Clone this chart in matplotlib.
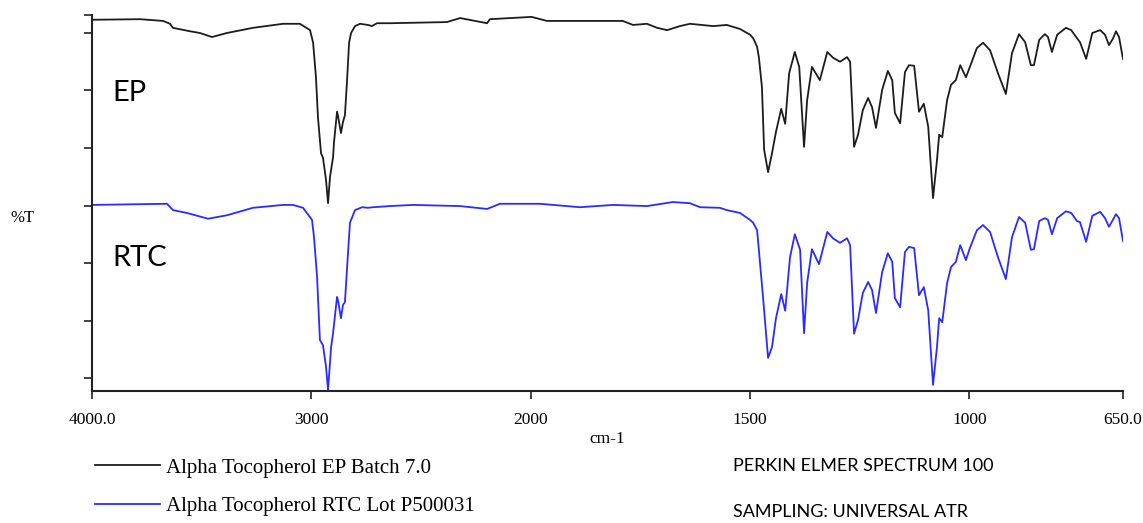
import numpy as np
import matplotlib
matplotlib.use("Agg")
import matplotlib.pyplot as plt

# ---------------------------------------------------------------------------
# Data: FT-IR spectra (wavenumber cm-1, offset %T)
# ---------------------------------------------------------------------------

EP_WN = [4000, 3781, 3676, 3644, 3631, 3553, 3508, 3453, 3385, 3266, 3129, 3052,
         3006, 2992, 2979, 2970, 2956, 2947, 2933, 2924, 2915, 2901, 2897, 2883,
         2879, 2865, 2856, 2847, 2838, 2828, 2819, 2801, 2778, 2742, 2724, 2701,
         2641, 2382, 2322, 2199, 2186, 1998, 1963, 1790, 1767, 1735, 1712, 1689,
         1660, 1637, 1584, 1553, 1523, 1500, 1493, 1484, 1480, 1473, 1468, 1459,
         1450, 1441, 1429, 1420, 1411, 1398, 1388, 1377, 1370, 1359, 1341, 1324,
         1311, 1295, 1279, 1272, 1263, 1254, 1243, 1231, 1222, 1213, 1199, 1186,
         1176, 1170, 1158, 1147, 1138, 1126, 1115, 1104, 1094, 1083, 1074, 1069,
         1062, 1051, 1042, 1031, 1021, 1008, 999, 983, 969, 953, 935, 917,
         903, 887, 873, 860, 853, 841, 828, 821, 812, 800, 780, 768,
         755, 748, 734, 720, 702, 691, 682, 673, 666, 659, 650]
EP_T = [62.3, 62.4, 62.1, 61.6, 60.9, 60.3, 60.0, 59.3, 60.0, 60.9, 61.6, 61.6,
        60.5, 58.3, 52.3, 45.4, 39.1, 38.3, 34.4, 30.4, 35.0, 38.4, 40.9, 46.3,
        45.7, 42.6, 44.5, 45.7, 51.3, 58.3, 60.0, 61.2, 61.6, 61.4, 61.2, 61.7,
        61.7, 61.9, 62.6, 61.7, 62.4, 62.8, 62.1, 62.1, 61.4, 61.6, 60.9, 60.5,
        61.2, 61.6, 61.2, 61.4, 60.7, 59.7, 59.1, 57.6, 55.8, 50.6, 39.7, 35.8,
        39.1, 42.8, 46.8, 44.2, 53.0, 56.7, 54.1, 40.2, 48.3, 54.1, 51.8, 56.7,
        55.7, 55.0, 55.8, 55.0, 40.2, 42.3, 46.6, 48.7, 47.1, 43.5, 50.1, 53.4,
        51.8, 46.1, 44.3, 53.2, 54.4, 54.3, 46.3, 47.7, 43.7, 31.3, 37.9, 42.3,
        41.9, 48.3, 51.0, 51.8, 54.4, 52.3, 54.1, 57.4, 58.3, 57.0, 53.0, 49.4,
        56.5, 59.8, 58.4, 54.4, 54.4, 58.8, 59.8, 59.3, 56.7, 59.7, 60.9, 60.5,
        59.1, 58.4, 55.5, 60.0, 60.5, 59.7, 57.9, 59.0, 60.3, 59.3, 55.5]

RTC_WN = [4000, 3658, 3631, 3567, 3471, 3385, 3266, 3129, 3084, 3038, 2997, 2988,
          2974, 2961, 2947, 2933, 2924, 2910, 2901, 2883, 2879, 2865, 2856, 2847,
          2833, 2824, 2801, 2769, 2742, 2719, 2641, 2537, 2322, 2199, 2140, 1979,
          1888, 1812, 1735, 1676, 1637, 1614, 1569, 1553, 1523, 1500, 1493, 1484,
          1480, 1470, 1459, 1450, 1441, 1429, 1420, 1409, 1398, 1386, 1377, 1370,
          1359, 1343, 1324, 1311, 1295, 1279, 1272, 1263, 1254, 1243, 1231, 1222,
          1213, 1199, 1186, 1176, 1170, 1158, 1147, 1138, 1126, 1115, 1104, 1094,
          1083, 1074, 1069, 1062, 1051, 1042, 1031, 1021, 1008, 999, 983, 969,
          953, 935, 917, 903, 887, 873, 860, 853, 841, 828, 821, 812,
          800, 780, 768, 755, 748, 734, 720, 702, 691, 682, 673, 666,
          659, 650]
RTC_T = [30.1, 30.3, 29.2, 28.7, 27.7, 28.3, 29.6, 30.1, 30.1, 29.6, 27.5, 24.5,
         17.6, 6.6, 5.7, 1.9, -2.1, 5.4, 7.8, 14.1, 13.6, 10.4, 12.7, 13.2,
         21.7, 27.0, 29.2, 29.7, 29.6, 29.7, 29.9, 30.1, 29.9, 29.4, 30.3, 30.3,
         29.7, 30.1, 29.9, 30.6, 30.4, 29.7, 29.6, 29.2, 28.7, 27.5, 27.0, 25.7,
         22.3, 13.6, 3.5, 5.4, 10.4, 14.6, 11.7, 21.0, 25.0, 22.3, 7.8, 16.5,
         22.4, 19.8, 25.4, 24.3, 23.5, 24.3, 23.1, 7.7, 10.1, 14.8, 16.7, 15.3,
         11.3, 18.4, 21.7, 20.2, 13.9, 12.3, 21.9, 22.8, 22.6, 14.4, 15.8, 11.8,
         -1.2, 5.4, 10.4, 9.7, 16.5, 19.3, 20.2, 23.1, 20.5, 22.6, 25.7, 26.6,
         25.4, 21.0, 17.2, 24.5, 28.0, 27.0, 22.3, 22.4, 27.3, 27.8, 27.5, 25.0,
         27.8, 29.0, 28.7, 27.3, 27.1, 23.7, 28.2, 28.9, 27.8, 26.3, 27.5, 28.5,
         27.8, 23.8]

X_TICKS = [4000, 3000, 2000, 1500, 1000, 650]
X_TICK_LABELS = ["4000.0", "3000", "2000", "1500", "1000", "650.0"]
Y_TICKS = [0, 10, 20, 30, 40, 50, 60, 63.1]

LEGEND_LABELS = ["Alpha Tocopherol EP Batch 7.0", "Alpha Tocopherol RTC Lot P500031"]

SERIF = ["Liberation Serif", "DejaVu Serif"]
SANS = ["Lato", "DejaVu Sans"]

# x axis is expanded 2x below 2000 cm-1, as on the instrument printout
def fwd(x):
    x = np.asarray(x, dtype=float)
    return np.where(x >= 2000, (x - 2000) / 1000, (x - 2000) / 500)


def inv(u):
    u = np.asarray(u, dtype=float)
    return np.where(u >= 0, 2000 + u * 1000, 2000 + u * 500)


fig = plt.figure(figsize=(11.43, 5.23), dpi=100)
ax = fig.add_axes([92 / 1143, 1 - 391 / 523, 1031 / 1143, 376 / 523])

line_ep, = ax.plot(EP_WN, EP_T, color="#1c1c1c", lw=1.3, solid_joinstyle="round")
line_rtc, = ax.plot(RTC_WN, RTC_T, color="#2b2bff", lw=1.3, solid_joinstyle="round")

ax.set_xscale("function", functions=(fwd, inv))
ax.set_xlim(4000, 650)
ax.set_ylim(-2.26, 63.13)

ax.set_xticks(X_TICKS)
ax.set_xticklabels(X_TICK_LABELS, family=SERIF, fontsize=12.5)
ax.set_xticks([], minor=True)
ax.set_yticks(Y_TICKS)
ax.set_yticklabels([])
ax.set_yticks([], minor=True)
ax.tick_params(direction="out", length=6, width=1.2, color="#222222", pad=9)

for side in ("top", "right"):
    ax.spines[side].set_visible(False)
for side in ("left", "bottom"):
    ax.spines[side].set_linewidth(1.5)
    ax.spines[side].set_color("#222222")

ax.set_xlabel("cm-1", family=SERIF, fontsize=12.5, labelpad=2)

fig.text(22 / 1143, 1 - 218 / 523, "%T", family=SERIF, fontsize=12,
         ha="center", va="center")
fig.text(112 / 1143, 1 - 93 / 523, "EP", family=SANS, fontsize=21,
         ha="left", va="center")
fig.text(112 / 1143, 1 - 258 / 523, "RTC", family=SANS, fontsize=21,
         ha="left", va="center")

fig.text(733 / 1143, 1 - 471 / 523, "PERKIN ELMER SPECTRUM 100", family=SANS,
         fontsize=13, ha="left", va="baseline")
fig.text(733 / 1143, 1 - 517 / 523, "SAMPLING: UNIVERSAL ATR", family=SANS,
         fontsize=13, ha="left", va="baseline")

fig.legend([line_ep, line_rtc], LEGEND_LABELS, loc="upper left",
           bbox_to_anchor=(95 / 1143, 1 - 458 / 523), frameon=False,
           prop={"family": SERIF, "size": 15}, handlelength=3.1,
           handletextpad=0.3, labelspacing=0.9, borderpad=0, borderaxespad=0)

fig.savefig("out.png", dpi=100, facecolor="white")
